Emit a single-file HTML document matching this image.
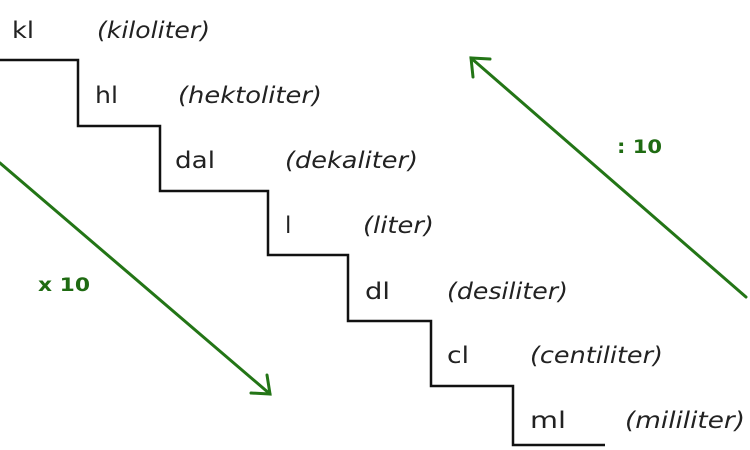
<!DOCTYPE html>
<html><head><meta charset="utf-8"><style>
html,body{margin:0;padding:0;background:#fff;width:750px;height:450px;overflow:hidden}
svg text{font-family:"DejaVu Sans","Liberation Sans",sans-serif;font-size:23px;fill:#222}
.i{font-style:italic}
.g{fill:#1f6b12;font-weight:bold;font-size:19px}
</style></head><body>
<svg width="750" height="450" viewBox="0 0 750 450">
<polyline points="0,60 78,60 78,126 160,126 160,191 268,191 268,255 348,255 348,321 431,321 431,386 513,386 513,445 605,445" fill="none" stroke="#111" stroke-width="2.5"/>
<text x="12" y="38" textLength="22" lengthAdjust="spacingAndGlyphs">kl</text><text class="i" x="97" y="38" textLength="113" lengthAdjust="spacingAndGlyphs">(kiloliter)</text>
<text x="95" y="103" textLength="23" lengthAdjust="spacingAndGlyphs">hl</text><text class="i" x="178" y="103" textLength="144" lengthAdjust="spacingAndGlyphs">(hektoliter)</text>
<text x="175" y="168" textLength="40" lengthAdjust="spacingAndGlyphs">dal</text><text class="i" x="285" y="168" textLength="133" lengthAdjust="spacingAndGlyphs">(dekaliter)</text>
<text x="285" y="233">l</text><text class="i" x="363" y="233" textLength="71" lengthAdjust="spacingAndGlyphs">(liter)</text>
<text x="365" y="299" textLength="25" lengthAdjust="spacingAndGlyphs">dl</text><text class="i" x="447" y="299" textLength="121" lengthAdjust="spacingAndGlyphs">(desiliter)</text>
<text x="447" y="363" textLength="22" lengthAdjust="spacingAndGlyphs">cl</text><text class="i" x="530" y="363" textLength="133" lengthAdjust="spacingAndGlyphs">(centiliter)</text>
<text x="530" y="428" textLength="36" lengthAdjust="spacingAndGlyphs">ml</text><text class="i" x="625" y="428" textLength="120" lengthAdjust="spacingAndGlyphs">(mililiter)</text>
<g stroke="#237516" stroke-width="3" fill="none" stroke-linecap="round">
<line x1="0" y1="163" x2="270" y2="394"/>
<polyline points="251,393 270,394 267,375"/>
<line x1="746" y1="297" x2="471" y2="58"/>
<polyline points="473,77 471,58 490,59"/>
</g>
<text class="g" x="38" y="291" textLength="52" lengthAdjust="spacingAndGlyphs">x 10</text>
<text class="g" x="617" y="153" textLength="45" lengthAdjust="spacingAndGlyphs">: 10</text>
</svg>
</body></html>
